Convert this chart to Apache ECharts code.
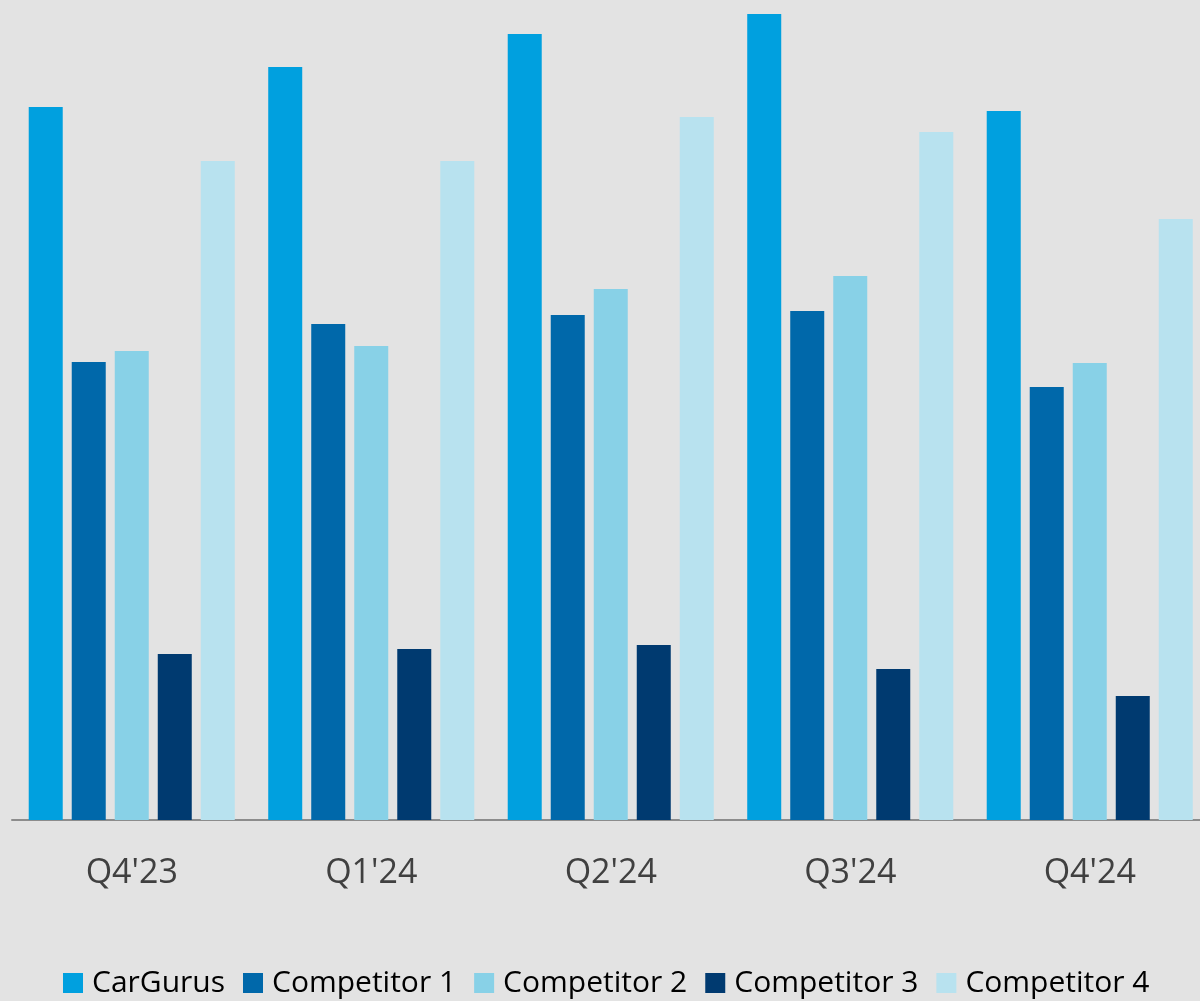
<!DOCTYPE html>
<html>
<head>
<meta charset="utf-8">
<script src="https://cdn.jsdelivr.net/npm/echarts@6/dist/echarts.min.js"></script>
<style>
html,body{margin:0;padding:0;background:#e3e3e3;}
#chart{width:1200px;height:1001px;}
</style>
</head>
<body>
<div id="chart"></div>
<script>
const categories = ["Q4'23", "Q1'24", "Q2'24", "Q3'24", "Q4'24"];
const seriesNames = ["CarGurus", "Competitor 1", "Competitor 2", "Competitor 3", "Competitor 4"];
const carGurus    = [713, 753, 786, 806, 709];
const competitor1 = [458, 496, 505, 509, 433];
const competitor2 = [469, 474, 531, 544, 457];
const competitor3 = [166, 171, 175, 151, 124];
const competitor4 = [659, 659, 703, 688, 601];
const colors = ["#00a0df", "#0068aa", "#88d1e7", "#003a70", "#b8e2ef"];

const allValues = [carGurus, competitor1, competitor2, competitor3, competitor4];
const chart = echarts.init(document.getElementById('chart'), null, {renderer: 'canvas'});
const font = "'Open Sans', sans-serif";
chart.setOption({
  backgroundColor: '#e3e3e3',
  animation: false,
  color: colors,
  grid: {left: 12, top: 0, width: 1197.5, height: 820, containLabel: false, outerBoundsMode: 'none'},
  legend: {
    data: seriesNames,
    left: 58, top: 963,
    icon: 'rect', itemWidth: 20, itemHeight: 20, itemGap: 18,
    textStyle: {fontFamily: font, fontSize: 30, color: '#000', padding: [0,0,0,4]}
  },
  xAxis: {
    type: 'category', data: categories,
    axisLine: {lineStyle: {color: '#8c8c8c', width: 2}},
    axisTick: {show: false},
    axisLabel: {fontFamily: font, fontSize: 34, color: '#404040', margin: 36}
  },
  yAxis: {
    type: 'value', min: 0, max: 820,
    show: false, splitLine: {show: false}
  },
  series: seriesNames.map((n, i) => ({
    name: n, type: 'bar', data: allValues[i],
    barWidth: 34, barGap: '26.5%',
    itemStyle: {color: colors[i]}
  }))
});
</script>
</body>
</html>
